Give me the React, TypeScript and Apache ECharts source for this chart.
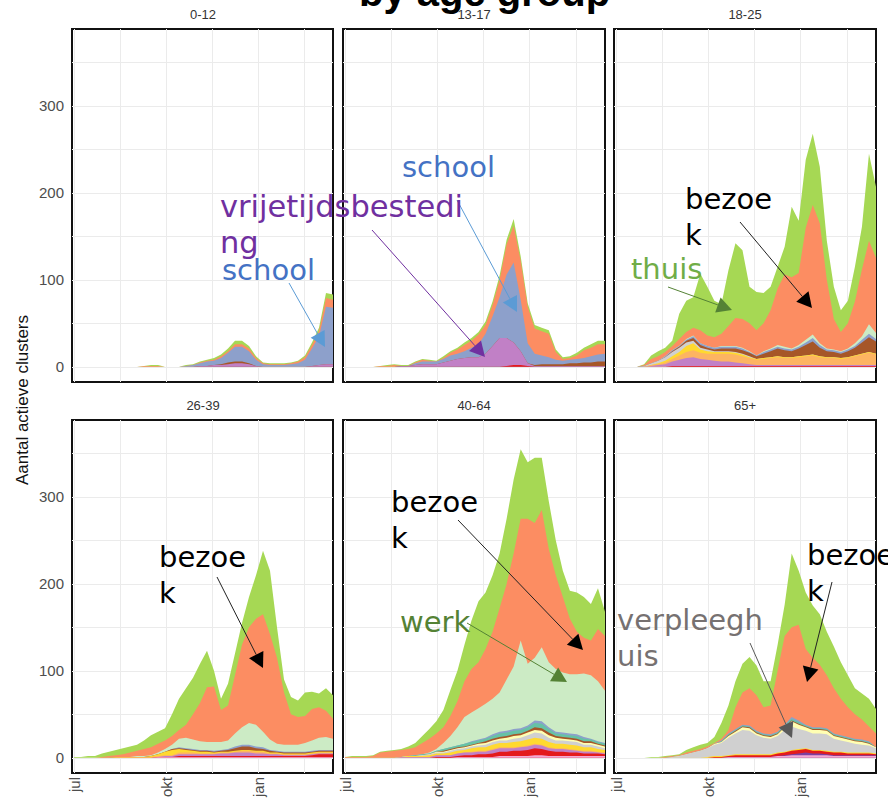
import React, { useEffect, useRef } from 'react';
import * as echarts from 'echarts';

// ---- axis / tick values (days since 1 July 2020) ----
const DAYS = [0, 7, 14, 21, 28, 35, 42, 49, 56, 63, 70, 77, 84, 91, 98, 105, 112, 119, 126, 133, 140, 147, 154, 161, 168, 175, 182, 189, 196, 203, 210, 217, 224, 231, 238, 245, 252, 259];
const MONTH_TICKS = [0, 92, 184];
const MONTH_LABELS = ['jul', 'okt', 'jan'];
const X_GRID = [0, 46, 92, 138, 184, 230];
const Y_GRID = [0, 50, 100, 150, 200, 250, 300, 350];
const Y_LABELS = [0, 100, 200, 300];
const PANEL_TITLES = ['0-12', '13-17', '18-25', '26-39', '40-64', '65+'];

// stacking order, bottom to top
const CATEGORIES = ['overig', 'zorg', 'horeca', 'vrijetijdsbesteding', 'feest', 'kinderopvang', 'verpleeghuis', 'sport', 'studentenhuis', 'zorginstelling', 'school', 'werk', 'bezoek', 'thuis'];
const COLORS: Record<string, string> = {
  overig: '#f4a9d4', zorg: '#7b3fa0', horeca: '#e41a1c', vrijetijdsbesteding: '#c180c6', feest: '#fdb462',
  kinderopvang: '#ffd92f', verpleeghuis: '#d0d0d0', sport: '#ffffb3', studentenhuis: '#a65628', zorginstelling: '#66c2a5',
  school: '#8da0cb', werk: '#ccebc5', bezoek: '#fc8d62', thuis: '#a6d854',
};

// ---- 0-12 ----
const a0_thuis = [0,0,0,0,0,0,0,0,0,0,0,1,1,0,0,0,1,1,1,1,2,2,3,4,4,3,2,1,1,1,1,1,1,2,3,4,6,6];
const a0_bezoek = [0,0,0,0,0,0,0,0,0,0,1,1,1,0,0,0,0,0,1,1,1,2,2,3,3,3,2,1,1,1,1,1,2,3,4,6,10,9];
const a0_school = [0,0,0,0,0,0,0,0,0,0,0,0,0,0,0,0,1,2,3,5,5,7,11,17,17,14,7,3,2,2,2,3,4,8,20,33,66,65];
const a0_vrij = [0,0,0,0,0,0,0,0,0,0,0,0,0,0,0,0,0,0,1,1,2,2,3,4,4,3,1,0,0,0,0,0,0,0,1,2,3,3];
const a0_studentenhuis = [0,0,0,0,0,0,0,0,0,0,0,0,0,0,0,0,0,0,0,0,0,1,2,2,2,1,0,0,0,0,0,0,0,0,0,0,0,0];

// ---- 13-17 ----
const a1_thuis = [0,0,0,0,0,0,1,1,1,1,1,1,1,1,2,2,2,3,3,3,4,4,5,5,8,5,4,4,4,4,3,2,2,3,3,4,4,4];
const a1_bezoek = [0,0,0,0,0,1,1,2,0,0,1,2,1,0,1,3,5,7,8,11,10,13,20,35,42,45,42,29,28,27,9,2,2,4,9,10,12,11];
const a1_school = [0,0,0,0,0,0,0,0,0,0,2,3,3,3,4,6,6,8,11,15,23,34,47,73,92,59,23,13,10,8,5,4,4,5,5,7,8,9];
const a1_vrij = [0,0,0,0,0,0,0,0,1,1,2,3,3,3,5,7,9,10,11,11,15,24,33,32,26,16,3,1,1,1,1,1,1,1,1,1,1,1];
const a1_studentenhuis = [0,0,0,0,0,0,0,0,0,0,0,0,0,0,0,0,0,0,0,0,0,0,0,0,0,0,0,1,2,2,2,2,3,3,4,4,5,5];
const a1_horeca = [0,0,0,0,0,0,0,0,0,0,0,0,0,0,0,0,0,0,0,0,0,0,0,1,2,2,1,0,0,0,0,0,0,0,0,0,0,0];

// ---- 18-25 ----
const a2_thuis = [0,0,0,0,1,4,6,5,6,29,36,35,65,56,42,34,64,86,79,42,44,35,27,25,32,81,60,78,82,65,45,37,25,26,40,49,100,82];
const a2_bezoek = [0,0,0,0,1,5,5,5,5,8,8,9,15,12,12,14,23,32,33,32,29,32,44,65,83,82,83,129,149,138,79,35,22,29,48,77,96,86];
const a2_werk = [0,0,0,0,0,0,0,0,0,0,1,1,0,0,0,1,1,1,1,1,0,1,1,2,2,1,2,3,4,2,1,1,1,1,3,4,11,7];
const a2_school = [0,0,0,0,0,0,0,1,1,1,1,2,2,2,2,2,2,2,2,1,1,2,2,2,2,2,2,3,4,3,2,2,2,2,2,3,4,3];
const a2_studentenhuis = [0,0,0,0,0,0,0,0,1,1,2,3,3,2,2,3,3,4,4,4,3,5,7,9,8,7,9,12,15,10,7,6,5,7,9,13,17,14];
const a2_verpleeghuis = [0,0,0,0,1,2,3,4,5,5,4,3,2,2,1,1,1,1,1,1,0,0,0,0,0,0,0,0,0,0,0,0,0,0,0,0,0,0];
const a2_kinderopvang = [0,0,0,0,0,0,1,2,3,4,7,8,4,3,2,2,2,2,2,1,1,1,1,1,1,1,1,1,1,1,1,1,1,1,1,1,1,1];
const a2_feest = [0,0,0,0,0,1,1,2,3,5,7,8,7,7,8,9,9,9,8,7,6,7,8,9,8,8,9,10,11,9,8,8,7,8,10,12,14,12];
const a2_vrij = [0,0,0,0,0,1,2,3,5,7,9,10,8,7,6,5,5,4,3,2,1,1,1,1,1,1,1,1,1,1,1,1,1,1,1,1,1,1];
const a2_horeca = [0,0,0,0,0,0,0,0,1,1,1,1,1,1,1,1,1,1,1,1,1,1,1,1,1,1,1,1,1,1,1,1,1,1,1,1,1,1];

// ---- 26-39 ----
const a3_thuis = [1,1,2,2,4,5,6,7,7,7,10,14,14,14,25,36,42,42,45,42,18,13,25,25,25,35,50,73,73,35,15,20,19,27,20,16,26,27];
const a3_bezoek = [0,0,0,0,1,2,2,3,5,6,8,9,10,10,10,10,15,29,44,63,64,37,40,67,95,110,122,135,121,99,60,35,32,31,36,35,30,23];
const a3_werk = [0,0,0,0,0,0,0,0,0,1,1,1,2,3,5,10,12,11,10,9,10,9,10,15,20,25,25,18,12,8,8,8,8,10,12,14,15,13];
const a3_school = [0,0,0,0,0,0,0,0,0,0,0,0,0,0,0,1,1,1,1,1,1,1,1,2,2,2,2,2,1,1,1,1,1,1,1,1,1,1];
const a3_studentenhuis = [0,0,0,0,0,0,0,0,0,0,0,0,0,0,1,1,1,1,1,1,1,1,2,3,4,4,3,2,2,1,1,1,1,1,1,1,1,1];
const a3_kinderopvang = [0,0,0,0,0,0,0,0,0,0,0,1,2,4,6,4,3,2,2,2,1,1,1,1,1,1,1,1,1,1,1,1,1,1,1,1,1,1];
const a3_feest = [0,0,0,0,0,0,1,1,1,1,1,1,1,1,1,2,2,2,1,1,1,1,1,1,2,2,2,2,1,1,1,1,1,1,1,1,1,1];
const a3_vrij = [0,0,0,0,0,0,0,0,0,0,0,0,0,1,1,2,2,2,2,2,2,3,3,4,4,4,3,3,2,2,1,1,1,1,1,1,1,1];
const a3_horeca = [0,0,0,0,0,0,0,0,0,0,0,0,0,0,0,1,1,1,1,1,1,1,1,1,1,1,1,1,1,1,1,1,1,1,2,3,3,3];
const a3_overig = [0,0,0,0,0,0,0,0,0,0,0,0,1,1,1,1,1,1,1,1,1,1,1,1,1,1,1,1,1,1,1,1,1,1,1,1,1,1];

// ---- 40-64 ----
const a4_thuis = [0,1,1,1,1,1,1,1,1,3,5,8,11,14,20,30,35,42,56,70,65,65,63,75,85,80,65,75,60,55,40,30,32,45,47,42,47,28];
const a4_bezoek = [1,1,1,1,2,6,7,8,8,8,9,13,16,18,18,23,30,41,50,53,63,77,97,110,130,140,167,155,158,130,108,87,64,49,41,40,60,63];
const a4_werk = [0,0,0,0,0,0,0,0,0,0,0,0,1,2,7,13,21,31,33,36,39,41,45,59,72,101,71,72,85,75,72,69,68,69,73,73,69,60];
const a4_school = [0,0,0,0,0,0,0,0,0,0,0,0,0,0,0,0,0,0,1,1,1,2,2,2,2,2,2,3,3,2,2,2,2,2,2,1,1,1];
const a4_zorginstelling = [0,0,0,0,0,0,0,0,0,0,1,1,1,1,2,2,2,3,3,3,3,3,4,4,4,4,4,5,5,4,3,3,3,3,3,2,2,2];
const a4_studentenhuis = [0,0,0,0,0,0,0,0,0,0,0,0,0,0,1,1,1,1,1,1,2,2,2,2,2,2,2,3,3,3,2,2,2,2,2,2,1,1];
const a4_sport = [0,0,0,0,0,0,0,0,0,0,0,0,0,1,1,1,1,1,1,2,2,2,2,3,3,3,3,3,3,3,3,2,2,2,2,2,2,2];
const a4_verpleeghuis = [0,0,0,0,0,0,0,0,0,0,0,1,1,1,1,2,2,2,2,2,3,3,3,3,4,4,5,6,6,5,4,4,4,4,3,3,3,2];
const a4_kinderopvang = [0,0,0,0,0,0,0,0,0,1,1,1,2,2,2,3,3,3,4,4,4,5,5,5,6,6,7,7,7,6,5,5,5,5,4,4,3,3];
const a4_feest = [0,0,0,0,0,0,0,0,0,0,0,0,0,0,0,0,0,0,1,1,1,1,1,1,1,1,1,1,1,1,1,1,1,1,1,1,1,1];
const a4_vrij = [0,0,0,0,0,0,0,0,1,1,1,1,1,2,2,2,3,3,3,3,3,4,4,4,3,4,4,4,4,3,3,3,3,2,2,2,1,1];
const a4_horeca = [0,0,0,0,0,0,0,0,0,0,0,0,0,1,1,1,1,2,2,3,3,4,5,5,6,6,7,8,7,6,5,5,4,4,3,3,3,2];
const a4_overig = [0,0,0,0,0,0,0,0,0,0,0,0,0,0,0,0,1,1,1,1,1,1,2,2,2,2,2,3,3,2,2,2,2,2,2,2,2,2];

// ---- 65+ ----
const a5_thuis = [0,0,0,0,0,1,1,1,1,1,3,4,5,4,7,18,28,30,33,36,34,30,28,30,36,85,62,65,60,58,50,48,42,37,30,30,32,28];
const a5_bezoek = [0,0,0,0,0,0,0,1,1,1,2,2,2,2,1,2,4,25,37,43,41,30,33,70,102,103,110,87,80,72,61,52,42,34,28,23,17,16];
const a5_school = [0,0,0,0,0,0,0,0,0,0,0,0,0,0,0,1,1,1,1,1,1,1,1,1,1,2,2,1,1,1,1,1,1,1,1,1,1,0];
const a5_zorginstelling = [0,0,0,0,0,0,0,0,0,0,0,0,0,0,0,1,1,1,1,1,1,1,1,1,1,2,2,1,1,1,1,1,1,1,1,1,1,0];
const a5_studentenhuis = [0,0,0,0,0,0,0,0,0,0,0,0,0,0,0,0,1,1,1,1,1,1,1,1,1,1,1,1,1,1,1,1,1,1,1,1,1,0];
const a5_sport = [0,0,0,0,0,0,0,0,0,0,0,0,0,0,1,1,2,2,3,3,2,2,2,2,3,6,5,4,4,4,4,3,3,3,3,3,2,1];
const a5_verpleeghuis = [0,0,0,0,0,0,0,0,1,2,4,6,8,10,13,15,20,24,28,27,22,19,18,19,25,27,23,20,19,19,19,15,13,12,10,9,8,6];
const a5_kinderopvang = [0,0,0,0,0,0,0,0,0,0,0,0,0,1,1,1,1,1,1,1,1,1,1,1,1,1,1,1,1,1,1,1,1,1,1,1,1,1];
const a5_horeca = [0,0,0,0,0,0,0,0,0,0,0,0,0,0,1,1,1,2,2,2,2,2,2,3,3,4,4,4,3,3,3,3,3,2,2,2,2,1];
const a5_zorg = [0,0,0,0,0,0,0,0,0,0,0,0,0,0,0,0,0,0,0,0,0,0,0,0,1,1,2,3,2,2,1,1,1,1,1,1,1,1];
const a5_overig = [0,0,0,0,0,0,0,0,0,0,0,0,0,0,0,0,1,1,1,1,1,1,1,2,2,3,3,3,3,3,3,2,2,2,2,2,2,2];

const PANEL_DATA: Record<string, number[]>[] = [
  { thuis: a0_thuis, bezoek: a0_bezoek, school: a0_school, vrijetijdsbesteding: a0_vrij, studentenhuis: a0_studentenhuis },
  { thuis: a1_thuis, bezoek: a1_bezoek, school: a1_school, vrijetijdsbesteding: a1_vrij, studentenhuis: a1_studentenhuis, horeca: a1_horeca },
  { thuis: a2_thuis, bezoek: a2_bezoek, werk: a2_werk, school: a2_school, studentenhuis: a2_studentenhuis, verpleeghuis: a2_verpleeghuis, kinderopvang: a2_kinderopvang, feest: a2_feest, vrijetijdsbesteding: a2_vrij, horeca: a2_horeca },
  { thuis: a3_thuis, bezoek: a3_bezoek, werk: a3_werk, school: a3_school, studentenhuis: a3_studentenhuis, kinderopvang: a3_kinderopvang, feest: a3_feest, vrijetijdsbesteding: a3_vrij, horeca: a3_horeca, overig: a3_overig },
  { thuis: a4_thuis, bezoek: a4_bezoek, werk: a4_werk, school: a4_school, zorginstelling: a4_zorginstelling, studentenhuis: a4_studentenhuis, sport: a4_sport, verpleeghuis: a4_verpleeghuis, kinderopvang: a4_kinderopvang, feest: a4_feest, vrijetijdsbesteding: a4_vrij, horeca: a4_horeca, overig: a4_overig },
  { thuis: a5_thuis, bezoek: a5_bezoek, school: a5_school, zorginstelling: a5_zorginstelling, studentenhuis: a5_studentenhuis, sport: a5_sport, verpleeghuis: a5_verpleeghuis, kinderopvang: a5_kinderopvang, horeca: a5_horeca, zorg: a5_zorg, overig: a5_overig },
];

// ---- layout ----
const PANEL_LEFT = [72, 343, 614];
const PANEL_TOP = [29, 420];
const PANEL_W = 262;
const PANEL_H = 353;

const ANNOT_FONT = '"DejaVu Sans", Verdana, sans-serif';
const SANS = '"Liberation Sans", Arial, sans-serif';

function arrow(x1: number, y1: number, x2: number, y2: number, head: string, line: string) {
  const ang = Math.atan2(y2 - y1, x2 - x1);
  const L = 15, W = 8;
  const bx = x2 - L * Math.cos(ang), by = y2 - L * Math.sin(ang);
  const px = -Math.sin(ang) * W, py = Math.cos(ang) * W;
  return [
    { type: 'line', z: 100, shape: { x1, y1, x2: bx, y2: by }, style: { stroke: line, lineWidth: 1 } },
    { type: 'polygon', z: 100, shape: { points: [[x2, y2], [bx + px, by + py], [bx - px, by - py]] }, style: { fill: head } },
  ];
}

function label(text: string, x: number, y: number, color: string, size = 29) {
  return {
    type: 'text', z: 101, x, y,
    style: { text, fill: color, font: `${size}px ${ANNOT_FONT}`, lineHeight: 36, verticalAlign: 'top', align: 'left' },
  };
}

export default function App() {
  const ref = useRef<HTMLDivElement>(null);
  useEffect(() => {
    if (!ref.current) return;
    const chart = echarts.init(ref.current, undefined, { renderer: 'svg' });
    const grids: any[] = [];
    const xAxes: any[] = [];
    const yAxes: any[] = [];
    const series: any[] = [];
    const graphics: any[] = [];

    for (let p = 0; p < 6; p++) {
      const col = p % 3, row = Math.floor(p / 3);
      const left = PANEL_LEFT[col], top = PANEL_TOP[row];
      grids.push({ left, top, width: col === 0 ? 261 : PANEL_W, height: PANEL_H, show: true, borderColor: '#111', borderWidth: 2, backgroundColor: '#fff', containLabel: false });
      xAxes.push({
        type: 'value', gridIndex: p, min: -2, max: 259,
        axisLine: { show: false },
        axisTick: { show: false, customValues: X_GRID },
        splitLine: { show: true, lineStyle: { color: '#ebebeb', width: 1 } },
        axisLabel: {
          show: row === 1, customValues: MONTH_TICKS, rotate: 90, margin: 4,
          color: '#4d4d4d', fontSize: 15, fontFamily: SANS,
          formatter: (v: number) => MONTH_LABELS[MONTH_TICKS.indexOf(v)] ?? '',
        },
      });
      yAxes.push({
        type: 'value', gridIndex: p, min: -17.5, max: 388.5,
        axisLine: { show: false },
        axisTick: { show: false, customValues: Y_GRID },
        splitLine: { show: true, lineStyle: { color: '#ebebeb', width: 1 } },
        axisLabel: {
          show: col === 0, customValues: Y_LABELS, margin: 8,
          color: '#4d4d4d', fontSize: 15, fontFamily: SANS,
        },
      });

      // stacked areas: cumulative sums, drawn from the top layer down so lower layers cover upper fills
      const layers = PANEL_DATA[p];
      const cats = CATEGORIES.filter((c) => layers[c]);
      const cumulative: number[][] = [];
      let running = DAYS.map(() => 0);
      cats.forEach((c) => {
        running = running.map((v, k) => v + (layers[c][k] ?? 0));
        cumulative.push(running);
      });
      for (let i = cats.length - 1; i >= 0; i--) {
        const cat = cats[i];
        series.push({
          type: 'line', name: cat, xAxisIndex: p, yAxisIndex: p,
          symbol: 'none', silent: true, emphasis: { disabled: true },
          lineStyle: { width: 0, color: COLORS[cat] },
          itemStyle: { color: COLORS[cat] },
          areaStyle: { color: COLORS[cat], opacity: 1, origin: 0 },
          data: DAYS.map((d, k) => [d, cumulative[i][k]]),
        });
      }
      graphics.push({
        type: 'text', z: 50, x: left + PANEL_W / 2, y: top - 15,
        style: { text: PANEL_TITLES[p], fill: '#333', font: `13px ${SANS}`, align: 'center', verticalAlign: 'middle' },
      });
    }

    // y-axis title
    graphics.push({
      type: 'text', z: 50, x: 22, y: 400, rotation: Math.PI / 2,
      style: { text: 'Aantal actieve clusters', fill: '#111', font: `17px ${SANS}`, align: 'center', verticalAlign: 'middle' },
    });
    // clipped page title at the very top
    graphics.push({
      type: 'text', z: 50, x: 359, y: 12,
      style: { text: 'by age group', fill: '#000', font: `bold 40px ${SANS}`, align: 'left', verticalAlign: 'bottom' },
    });

    // annotations
    graphics.push(
      ...arrow(289, 283, 325, 347, '#5b9bd5', '#5b9bd5'),
      ...arrow(457, 200, 517, 312, '#5b9bd5', '#5b9bd5'),
      ...arrow(372, 230, 485, 357, '#7030a0', '#7030a0'),
      ...arrow(740, 222, 812, 308, '#000', '#222'),
      ...arrow(668, 287, 732, 310, '#548235', '#548235'),
      ...arrow(217, 577, 263, 668, '#000', '#222'),
      ...arrow(458, 520, 583, 650, '#000', '#222'),
      ...arrow(467, 623, 567, 682, '#548235', '#548235'),
      ...arrow(832, 582, 807, 682, '#000', '#222'),
      ...arrow(750, 643, 792, 738, '#595959', '#595959'),
      label('vrijetijdsbestedi\nng', 220, 188, '#7030a0', 30.5),
      label('school', 222, 252, '#4472c4'),
      label('school', 402, 149, '#4472c4'),
      label('bezoe\nk', 685, 181, '#000'),
      label('thuis', 631, 251, '#70ad47'),
      label('bezoe\nk', 159, 539, '#000'),
      label('bezoe\nk', 391, 484, '#000'),
      label('werk', 400, 604, '#548235'),
      label('verpleegh\nuis', 617, 602, '#767171'),
      label('bezoe\nk', 807, 537, '#000'),
    );

    chart.setOption({
      animation: false,
      backgroundColor: '#fff',
      grid: grids,
      xAxis: xAxes,
      yAxis: yAxes,
      series,
      graphic: graphics,
    });
    return () => chart.dispose();
  }, []);
  return <div ref={ref} style={{ position: 'absolute', left: 0, top: 0, width: 888, height: 800 }} />;
}
